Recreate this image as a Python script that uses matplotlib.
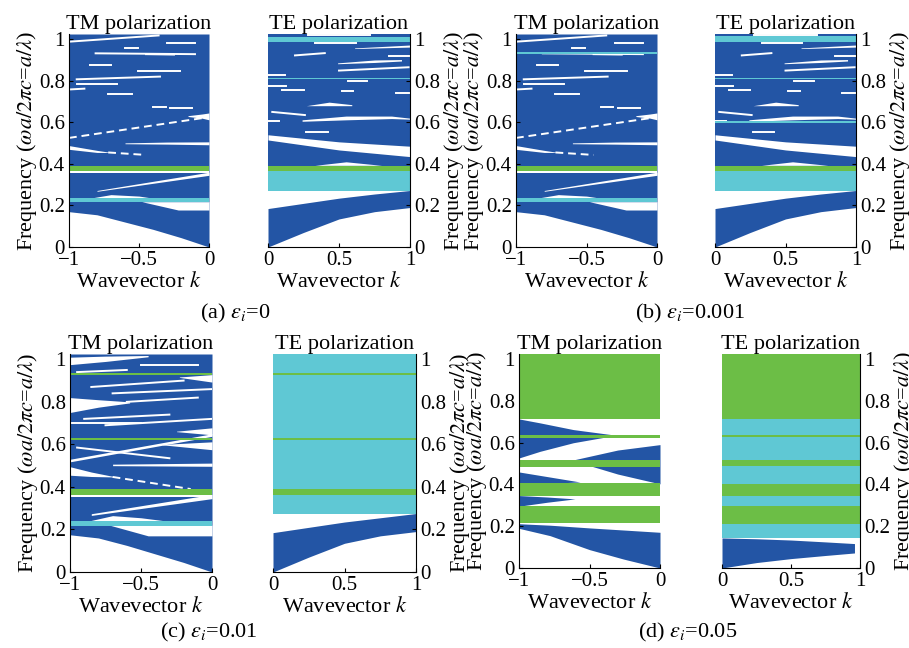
import matplotlib
matplotlib.use('Agg')
import matplotlib.pyplot as plt

plt.rcParams['font.family'] = 'serif'
plt.rcParams['font.serif'] = ['Liberation Serif', 'DejaVu Serif']
plt.rcParams['mathtext.fontset'] = 'stix'

BLUE = '#2355a5'
CYAN = '#5fc8d4'
GREEN = '#6cbe46'
COLORS = {'c': CYAN, 'g': GREEN}
TOP = 1.025

yticks = [0, 0.2, 0.4, 0.6, 0.8, 1]
yticklabels = ['0', '0.2', '0.4', '0.6', '0.8', '1']
tm_xticks = [-1, -0.5, 0]
tm_xticklabels = ['\u22121', '\u22120.5', '0']
te_xticks = [0, 0.5, 1]
te_xticklabels = ['0', '0.5', '1']
captions = [r'(a) $\varepsilon_i$=0', r'(b) $\varepsilon_i$=0.001',
            r'(c) $\varepsilon_i$=0.01', r'(d) $\varepsilon_i$=0.05']

# ---- (a) / (b) TM : allowed bands (blue), gaps (white), full gaps (stripes)
tm_a_blue = [([-1, -0.8, -0.6, -0.4, -0.2, 0],
              [0.17, 0.155, 0.12, 0.085, 0.045, 0.0],
              [TOP] * 6)]
tm_a_gaps = [
    ([-0.48, -0.22, 0], [0.218, 0.178, 0.178], [0.218, 0.218, 0.218]),
    ([-0.85, -0.7, -0.5, -0.4], [0.235] * 4, [0.235, 0.252, 0.245, 0.235]),
    ([-0.8, 0], [0.268, 0.345], [0.272, 0.36]),
    ([-1, 0], [0.356, 0.356], [0.366, 0.366]),
    ([-1, -0.8, -0.72], [0.47, 0.455, 0.455], [0.488, 0.465, 0.457]),
    ([-0.6, -0.3, 0], [0.497, 0.495, 0.492], [0.501, 0.505, 0.506]),
    ([-0.15, -0.05, 0], [0.628, 0.62, 0.612], [0.632, 0.64, 0.645]),
]
tm_a_lines = [
    (-1, -0.36, 0.988, 1.018), (-0.30, -0.10, 0.983, 0.983),
    (-0.6, -0.51, 0.956, 0.956), (-0.81, -0.10, 0.932, 0.928),
    (-0.45, -0.25, 0.928, 0.926), (-0.85, -0.70, 0.875, 0.875),
    (-0.51, -0.21, 0.849, 0.849), (-0.945, -0.35, 0.807, 0.82),
    (-0.945, -0.66, 0.784, 0.784), (-1, -0.89, 0.758, 0.762),
    (-0.72, -0.55, 0.738, 0.738), (-0.40, -0.31, 0.673, 0.673),
    (-0.28, -0.12, 0.668, 0.668),
]
tm_a_dashed = [(-1, 0, 0.525, 0.625), (-0.72, -0.45, 0.455, 0.443)]
tm_a_stripes = [('c', 0.218, 0.235), ('g', 0.366, 0.388)]
tm_b_stripes = tm_a_stripes + [('c', 0.929, 0.94)]

# ---- (a) / (b) TE
te_a_blue = [([0, 0.25, 0.5, 0.75, 1],
              [0, 0.07, 0.135, 0.17, 0.19],
              [0.185, 0.21, 0.235, 0.255, 0.272]),
             ([0, 1], [0.27, 0.27], [TOP, TOP])]
te_a_gaps = [
    ([0, 0.5, 1], [0.515, 0.467, 0.435], [0.54, 0.506, 0.485]),
    ([0.33, 0.55, 0.8], [0.393] * 3, [0.393, 0.41, 0.393]),
    ([0.27, 0.43, 0.59], [0.68] * 3, [0.68, 0.697, 0.685]),
    ([0.24, 0.55, 0.87, 1.0], [0.605, 0.612, 0.618, 0.615], [0.612, 0.63, 0.63, 0.62]),
    ([0.49, 0.75, 0.94], [0.882, 0.888, 0.895], [0.886, 0.9, 0.902]),
    ([0.61, 1.0], [0.955, 0.962], [0.958, 0.972]),
]
te_a_lines = [
    (0.19, 0.40, 0.922, 0.933), (0.85, 1.0, 0.917, 0.917),
    (0.5, 0.99, 0.849, 0.865), (0.0, 0.12, 0.83, 0.83),
    (0.56, 0.70, 0.80, 0.80), (0.0, 0.13, 0.775, 0.775),
    (0.1, 0.25, 0.755, 0.755), (0.52, 0.6, 0.75, 0.75),
    (0.9, 1.0, 0.743, 0.743), (0.03, 0.26, 0.65, 0.635),
    (0.0, 0.08, 0.605, 0.605), (0.27, 0.42, 0.555, 0.555),
    (0.33, 0.62, 0.983, 0.983), (0.28, 0.72, 1.02, 1.02),
]
te_a_stripes = [('c', 0.988, 1.012), ('c', 0.807, 0.815),
                ('g', 0.367, 0.39), ('c', 0.27, 0.367)]
te_b_stripes = [('c', 0.988, 1.015), ('c', 0.807, 0.815), ('c', 0.598, 0.607),
                ('g', 0.367, 0.39), ('c', 0.27, 0.367)]

# ---- (c) TM
tm_c_blue = [([-1, -0.8, -0.6, -0.4, -0.2, 0],
              [0.175, 0.16, 0.125, 0.085, 0.045, 0.0],
              [TOP] * 6)]
tm_c_gaps = [
    ([-0.72, -0.45, 0], [0.22, 0.17, 0.17], [0.22, 0.22, 0.22]),
    ([-0.88, -0.7, -0.5, -0.3], [0.238] * 4, [0.238, 0.265, 0.255, 0.238]),
    ([-0.85, 0], [0.266, 0.345], [0.274, 0.365]),
    ([-1, 0], [0.352, 0.352], [0.362, 0.362]),
    ([-1, -0.85, -0.7], [0.455, 0.449, 0.447], [0.495, 0.47, 0.45]),
    ([-0.7, 0], [0.5, 0.497], [0.507, 0.512]),
    ([-1, 0], [0.518, 0.638], [0.53, 0.65]),
    ([-0.35, 0], [0.598, 0.575], [0.6, 0.612]),
    ([-0.25, 0], [0.66, 0.645], [0.662, 0.678]),
    ([-1, -0.8, -0.58], [0.75, 0.775, 0.795], [0.82, 0.81, 0.8]),
    ([-0.23, 0], [0.915, 0.893], [0.917, 0.928]),
    ([-1, -0.75, -0.45], [0.975, 0.99, 1.012], [1.01, 1.015, 1.018]),
]
tm_c_lines = [
    (-0.95, -0.3, 0.585, 0.535), (-0.85, -0.2, 0.87, 0.9),
    (-0.7, 0, 0.84, 0.86), (-0.6, -0.1, 0.8, 0.82),
    (-0.9, -0.3, 0.72, 0.74), (-0.75, 0, 0.69, 0.72),
    (-1, -0.5, 0.7, 0.7), (-0.95, -0.6, 0.94, 0.95),
    (-0.5, -0.1, 0.975, 0.975),
]
tm_c_dashed = [(-0.7, -0.15, 0.447, 0.39)]
tm_c_stripes = [('c', 0.218, 0.238), ('g', 0.362, 0.388),
                ('g', 0.621, 0.628), ('g', 0.928, 0.935)]

# ---- (c) TE
te_c_blue = [([0, 0.25, 0.5, 0.75, 1],
              [0, 0.07, 0.135, 0.17, 0.19],
              [0.185, 0.21, 0.235, 0.255, 0.275])]
te_c_stripes = [('c', 0.275, TOP), ('g', 0.362, 0.388),
                ('g', 0.621, 0.628), ('g', 0.928, 0.936)]

# ---- (d) TM
tm_d_blue = [
    ([-1, -0.85, -0.615, -0.38, -0.31], [0.527, 0.559, 0.6, 0.628, 0.635],
     [0.714, 0.695, 0.663, 0.642, 0.636]),
    ([-0.626, -0.3, 0], [0.516, 0.45, 0.403], [0.516, 0.565, 0.591]),
    ([-1, -0.567], [0.40, 0.412], [0.46, 0.412]),
    ([-1, -0.8, -0.603], [0.296, 0.315, 0.331], [0.347, 0.34, 0.331]),
    ([-1, -0.78, -0.5, -0.26, 0], [0.19, 0.155, 0.088, 0.043, 0],
     [0.212, 0.205, 0.192, 0.182, 0.171]),
]
tm_d_stripes = [('g', 0.714, TOP), ('g', 0.623, 0.636), ('g', 0.484, 0.516),
                ('g', 0.347, 0.407), ('g', 0.216, 0.296)]

# ---- (d) TE
te_d_blue = [([0, 0.25, 0.5, 0.75, 0.96], [0, 0.026, 0.045, 0.06, 0.072],
              [0.144, 0.14, 0.134, 0.125, 0.117])]
te_d_stripes = [('g', 0.714, TOP), ('c', 0.639, 0.714), ('g', 0.628, 0.639),
                ('c', 0.519, 0.628), ('g', 0.487, 0.519), ('c', 0.403, 0.487),
                ('g', 0.344, 0.403), ('c', 0.296, 0.344), ('g', 0.212, 0.296),
                ('c', 0.144, 0.212)]


def drawPanel(ax, side, blue, gaps=(), lines=(), dashed=(), stripes=()):
    for k, lo, hi in blue:
        ax.fill_between(k, lo, hi, color=BLUE, lw=0, zorder=1)
    for k, lo, hi in gaps:
        ax.fill_between(k, lo, hi, color='white', lw=0, zorder=2)
    for k0, k1, y0, y1 in lines:
        ax.plot([k0, k1], [y0, y1], color='white', lw=1.4, zorder=3)
    for k0, k1, y0, y1 in dashed:
        ax.plot([k0, k1], [y0, y1], color='white', lw=1.4, ls=(0, (4, 2.5)), zorder=3)
    for c, lo, hi in stripes:
        ax.axhspan(lo, hi, color=COLORS[c], lw=0, zorder=4)

    ax.set_ylim(0, TOP)
    ax.set_yticks(yticks)
    ax.set_yticklabels(yticklabels)
    ax.spines['top'].set_visible(False)
    ax.tick_params(direction='in', length=3, labelsize=15, pad=3)
    if side == 'TM':
        ax.set_xlim(-1, 0)
        ax.set_xticks(tm_xticks)
        ax.set_xticklabels(tm_xticklabels)
        ax.spines['right'].set_visible(False)
        pad = 0
    else:
        ax.set_xlim(0, 1)
        ax.set_xticks(te_xticks)
        ax.set_xticklabels(te_xticklabels)
        ax.spines['left'].set_visible(False)
        ax.yaxis.tick_right()
        ax.yaxis.set_label_position('right')
        pad = 1
    for s in ax.spines.values():
        s.set_zorder(6)
    ax.set_title(side + ' polarization', fontsize=16, pad=3)
    ax.set_xlabel('Wavevector $k$', fontsize=16, labelpad=1)
    ax.set_ylabel(r'Frequency ($\omega a/2\pi c$=$a/\lambda$)', fontsize=16, labelpad=pad)


W, H = 909.0, 648.0


def addAxes(fig, left, right, top, bottom):
    return fig.add_axes([left / W, 1 - bottom / H, (right - left) / W, (bottom - top) / H])


fig = plt.figure(figsize=(9.09, 6.48), dpi=100)

ax = addAxes(fig, 69, 209, 34, 247)
drawPanel(ax, 'TM', tm_a_blue, tm_a_gaps, tm_a_lines, tm_a_dashed, tm_a_stripes)
ax = addAxes(fig, 268, 410, 34, 247)
drawPanel(ax, 'TE', te_a_blue, te_a_gaps, te_a_lines, (), te_a_stripes)
ax = addAxes(fig, 516, 657, 34, 247)
drawPanel(ax, 'TM', tm_a_blue, tm_a_gaps, tm_a_lines, tm_a_dashed, tm_b_stripes)
ax = addAxes(fig, 715, 856, 34, 247)
drawPanel(ax, 'TE', te_a_blue, te_a_gaps, te_a_lines, (), te_b_stripes)

ax = addAxes(fig, 70, 212, 354, 572)
drawPanel(ax, 'TM', tm_c_blue, tm_c_gaps, tm_c_lines, tm_c_dashed, tm_c_stripes)
ax = addAxes(fig, 273, 416, 354, 572)
drawPanel(ax, 'TE', te_c_blue, (), (), (), te_c_stripes)
ax = addAxes(fig, 519, 660, 354, 568)
drawPanel(ax, 'TM', tm_d_blue, (), (), (), tm_d_stripes)
ax = addAxes(fig, 722, 860, 354, 568)
drawPanel(ax, 'TE', te_d_blue, (), (), (), te_d_stripes)

fig.text(235 / W, 1 - 313 / H, captions[0], ha='center', va='center', fontsize=16)
fig.text(690 / W, 1 - 313 / H, captions[1], ha='center', va='center', fontsize=16)
fig.text(209 / W, 1 - 632 / H, captions[2], ha='center', va='center', fontsize=16)
fig.text(688 / W, 1 - 632 / H, captions[3], ha='center', va='center', fontsize=16)

fig.savefig('out.png', dpi=100)
